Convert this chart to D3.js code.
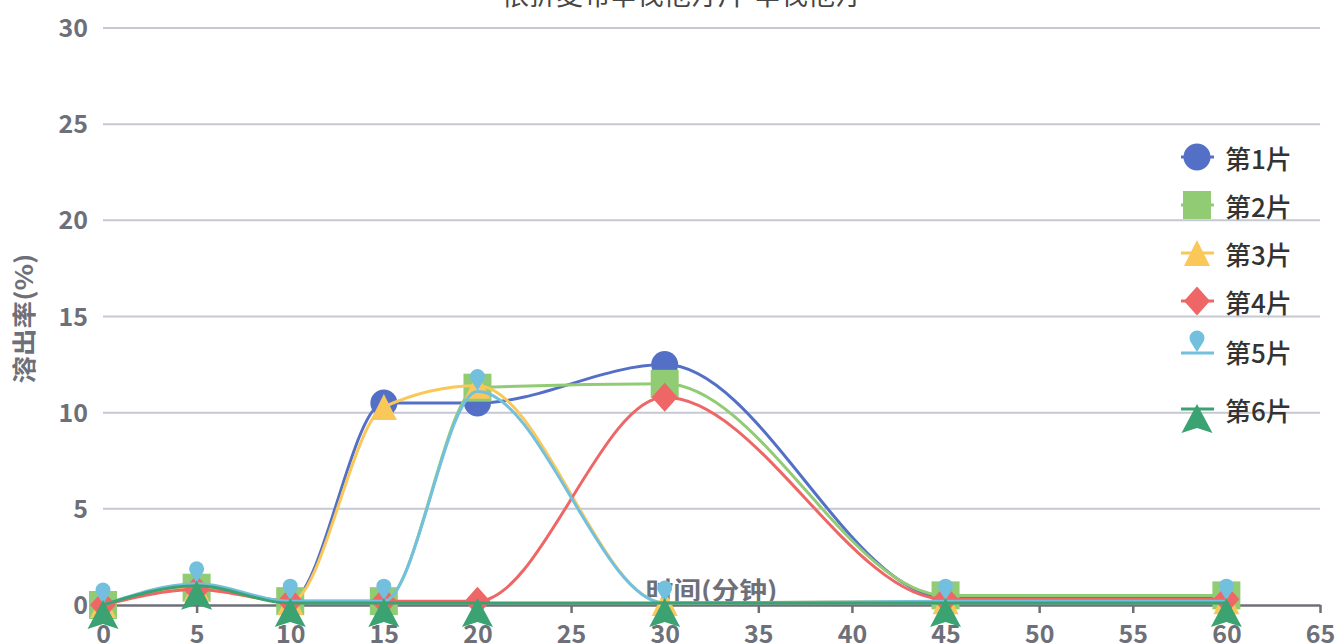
<!DOCTYPE html>
<html>
<head>
<meta charset="utf-8">
<script src="https://cdn.jsdelivr.net/npm/d3@7"></script>
<style>
html,body{margin:0;padding:0;background:#fff;}
svg{display:block;}
text{font-family:"Noto Sans CJK SC","Noto Sans",sans-serif;}
</style>
</head>
<body>
<svg id="chart" width="1337" height="644"></svg>
<script>
// ---- data ----
const title = "依折麦布辛伐他汀片-辛伐他汀";
const xName = "时间(分钟)";
const yName = "溶出率(%)";
const times = [0, 5, 10, 15, 20, 30, 45, 60];
const seriesNames = ["第1片", "第2片", "第3片", "第4片", "第5片", "第6片"];
const s1 = [0, 0.9, 0.2, 10.5, 10.5, 12.5, 0.4, 0.4];
const s2 = [0, 0.9, 0.2, 0.2, 11.3, 11.5, 0.5, 0.5];
const s3 = [0, 0.85, 0.15, 10.3, 11.4, 0.1, 0.2, 0.2];
const s4 = [0, 0.8, 0.2, 0.2, 0.2, 10.8, 0.3, 0.3];
const s5 = [0, 1.1, 0.2, 0.2, 11.1, 0.1, 0.2, 0.2];
const s6 = [0, 1.0, 0.1, 0.1, 0.1, 0.1, 0.1, 0.1];
const xTicks = [0, 5, 10, 15, 20, 25, 30, 35, 40, 45, 50, 55, 60, 65];
const yTicks = [0, 5, 10, 15, 20, 25, 30];

// ---- styles / layout ----
const colors = ["#5470c6", "#91cc75", "#fac858", "#ee6666", "#73c0de", "#3ba272"];
const symbols = ["circle", "square", "triangle", "diamond", "pin", "arrow"];
const allSeries = [s1, s2, s3, s4, s5, s6];
const plotL = 103, plotR = 1320, plotT = 28, plotB = 605;
const legendX = 1197, legendTextX = 1225;
const legendY = [157, 205, 253, 301, 351, 409];

const svg = d3.select("#chart");
const x = d3.scaleLinear().domain([0, 65]).range([plotL, plotR]);
const y = d3.scaleLinear().domain([0, 30]).range([plotB, plotT]);

// grid lines
svg.append("g").selectAll("line").data(yTicks.filter(d => d > 0)).join("line")
  .attr("x1", plotL).attr("x2", plotR)
  .attr("y1", d => y(d)).attr("y2", d => y(d))
  .attr("stroke", "#c6c9d4").attr("stroke-width", 2);

// y tick labels
svg.append("g").selectAll("text").data(yTicks).join("text")
  .attr("x", 88).attr("y", d => y(d) - 2)
  .attr("text-anchor", "end").attr("dominant-baseline", "central")
  .attr("font-size", 25).attr("font-weight", "bold").attr("fill", "#6e7079")
  .text(d => d);

// x axis
const xAxis = svg.append("g").attr("transform", `translate(0,${plotB})`)
  .call(d3.axisBottom(x).tickValues(xTicks).tickSize(8).tickSizeOuter(0).tickPadding(6));
xAxis.select(".domain").attr("stroke", "#6e7079").attr("stroke-width", 2.5);
xAxis.selectAll(".tick line").attr("stroke", "#6e7079").attr("stroke-width", 2.5);
xAxis.selectAll(".tick text")
  .attr("font-size", 25).attr("font-weight", "bold").attr("fill", "#6e7079")
  .attr("font-family", "'Noto Sans CJK SC','Noto Sans',sans-serif")
  .attr("dy", "0.95em");

// axis names
svg.append("text").attr("x", x(32.5)).attr("y", 588)
  .attr("text-anchor", "middle").attr("dominant-baseline", "central")
  .attr("font-size", 24).attr("font-weight", "bold").attr("fill", "#6e7079")
  .attr("textLength", 132).attr("lengthAdjust", "spacingAndGlyphs")
  .text(xName);
svg.append("text").attr("transform", `translate(22,${(plotT + plotB) / 2 + 2}) rotate(-90)`)
  .attr("text-anchor", "middle").attr("dominant-baseline", "central")
  .attr("font-size", 24).attr("font-weight", "bold").attr("fill", "#6e7079")
  .attr("textLength", 130).attr("lengthAdjust", "spacingAndGlyphs")
  .text(yName);

// title
svg.append("text").attr("x", 682).attr("y", 5)
  .attr("text-anchor", "middle")
  .attr("font-size", 26).attr("fill", "#464646")
  .attr("textLength", 360).attr("lengthAdjust", "spacingAndGlyphs")
  .text(title);

// symbol paths centred on (0,0)
function symbolPath(type) {
  switch (type) {
    case "circle": return "M-13.5,0A13.5,13.5 0 1,1 13.5,0A13.5,13.5 0 1,1 -13.5,0Z";
    case "square": return "M-14,-14H14V14H-14Z";
    case "triangle": return "M0,-13L13,13L-13,13Z";
    case "diamond": return "M0,-14.5L13,0L0,14.5L-13,0Z";
    case "pin": return "M-6,-10.5A7.5,7.5 0 1,1 6,-10.5L0,-1Z";
    case "arrow": return "M0,-5L15.5,24L0,19L-15.5,24Z";
  }
}

const line = d3.line().x(d => x(d[0])).y(d => y(d[1])).curve(d3.curveMonotoneX);

allSeries.forEach((vals, i) => {
  const g = svg.append("g");
  const pts = times.map((t, j) => [t, vals[j]]);
  g.append("path").attr("d", line(pts))
    .attr("fill", "none").attr("stroke", colors[i]).attr("stroke-width", 3);
  g.selectAll("path.sym").data(pts).join("path").attr("class", "sym")
    .attr("transform", d => `translate(${x(d[0])},${y(d[1])})`)
    .attr("d", symbolPath(symbols[i]))
    .attr("fill", colors[i]);
});

// legend
const lg = svg.append("g");
seriesNames.forEach((name, i) => {
  const ly = legendY[i];
  const lineY = symbols[i] === "pin" ? ly + 2 : ly;
  lg.append("line").attr("x1", legendX - 16).attr("x2", legendX + 17)
    .attr("y1", lineY).attr("y2", lineY)
    .attr("stroke", colors[i]).attr("stroke-width", 3);
  lg.append("path").attr("transform", `translate(${legendX},${lineY})`)
    .attr("d", symbolPath(symbols[i])).attr("fill", colors[i]);
  lg.append("text").attr("x", legendTextX).attr("y", ly)
    .attr("dominant-baseline", "central")
    .attr("font-size", 26).attr("font-weight", 500).attr("fill", "#333")
    .text(name);
});
</script>
</body>
</html>
